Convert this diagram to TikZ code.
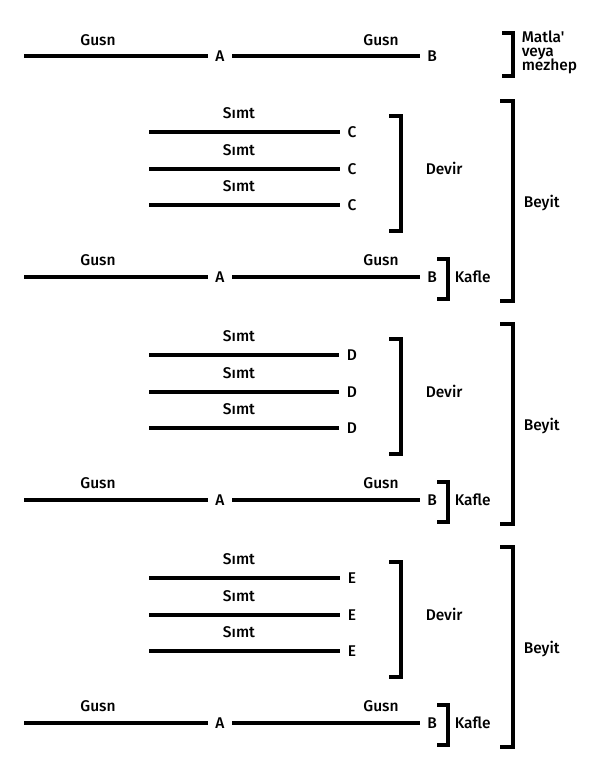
\documentclass[tikz,border=0pt]{standalone}
\usepackage{fontspec}
\IfFontExistsTF{Fira Sans Medium}
  {\newfontfamily\labelfont{Fira Sans Medium}}
  {\newfontfamily\labelfont{Fira Sans}}
\usetikzlibrary{positioning, calc}

\begin{document}
\begin{tikzpicture}[x=1pt, y=-1pt, line width=3.5pt, font=\labelfont\fontsize{15.5}{18}\selectfont]
        % Define styles
        \tikzstyle{letter} = [inner xsep=6pt, inner ysep=0pt]
        \tikzstyle{verse} = [inner sep=0pt]
        \tikzstyle{part} = [inner sep=0pt, anchor=west, align=left]
        \tikzstyle{bracket} = [line width=4pt, line cap=butt, line join=miter]

        \useasboundingbox (0,0) rectangle (600,783);

        % Matla' veya mezhep
        \coordinate (m_start) at (24,56);
        \node [letter] (m_a) at (220,56) {A};
        \node [letter] (m_b) at (432,56) {B};
        \node [verse] (m_gusn1) at (98,40) {Gusn};
        \node [verse] (m_gusn2) at (381,40) {Gusn};
        \draw (m_start) -- (m_a);
        \draw (m_a) -- (m_b);
        \draw [bracket] (502,33) -- (513,33) -- (513,76) -- (502,76);
        \node [part, anchor=north west] (matla) at (520,29) {Matla'\\[-4pt]veya\\[-4pt]mezhep};

        % Three stanzas
        \foreach \s/\dy/\rhyme in {1/0/C, 2/223/D, 3/446/E} {
            % Sımt lines
            \foreach \i/\y in {1/132, 2/169, 3/205} {
                \coordinate (s\s_start\i) at (149,\y+\dy);
                \node [letter] (s\s_\i) at (352,\y+\dy) {\rhyme};
                \node [verse] (s\s_simt\i) at (239,\y+\dy-19) {Sımt};
                \draw (s\s_start\i) -- (s\s_\i);
            }
            \draw [bracket] (389,116+\dy) -- (401,116+\dy) -- (401,231+\dy) -- (389,231+\dy);
            \node [part] (devir\s) at (424,168+\dy) {Devir};

            % Gusn line
            \coordinate (g\s_start) at (24,277+\dy);
            \node [letter] (g\s_a) at (220,277+\dy) {A};
            \node [letter] (g\s_b) at (432,277+\dy) {B};
            \node [verse] (g\s_gusn1) at (98,260+\dy) {Gusn};
            \node [verse] (g\s_gusn2) at (381,260+\dy) {Gusn};
            \draw (g\s_start) -- (g\s_a);
            \draw (g\s_a) -- (g\s_b);
            \draw [bracket] (437,259+\dy) -- (448,259+\dy) -- (448,299+\dy) -- (437,299+\dy);
            \node [part] (kafle\s) at (453,277+\dy) {Kafle};

            % Beyit
            \draw [bracket] (500,101+\dy) -- (513,101+\dy) -- (513,301+\dy) -- (500,301+\dy);
            \node [part] (beyit\s) at (522,203+\dy) {Beyit};
        }
    \end{tikzpicture}
\end{document}
